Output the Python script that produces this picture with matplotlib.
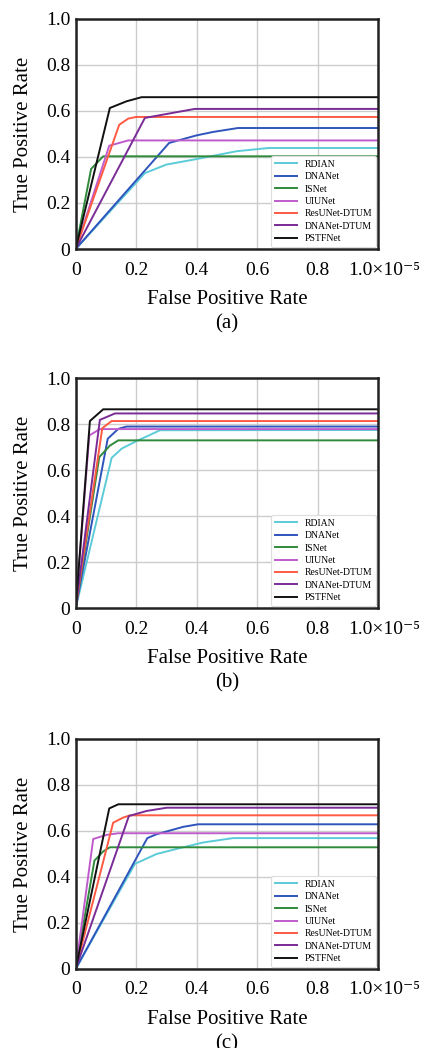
import matplotlib
matplotlib.use('Agg')
import matplotlib.pyplot as plt
import matplotlib.transforms as mtrans
import numpy as np

### data (FPR in units of 1e-5)
names = ['RDIAN', 'DNANet', 'ISNet', 'UIUNet', 'ResUNet-DTUM', 'DNANet-DTUM', 'PSTFNet']
colors = ['#5ccbd8', '#2f55bd', '#2f8a3c', '#bf5ccb', '#ff5a42', '#7a2c96', '#111111']

# panel (a)
a_fpr = {
    'RDIAN': [0, 0.229, 0.30, 0.40, 0.532, 0.637, 1.0],
    'DNANet': [0, 0.309, 0.40, 0.455, 0.537, 1.0],
    'ISNet': [0, 0.051, 0.091, 1.0],
    'UIUNet': [0, 0.111, 0.174, 1.0],
    'ResUNet-DTUM': [0, 0.144, 0.174, 0.20, 1.0],
    'DNANet-DTUM': [0, 0.229, 0.394, 1.0],
    'PSTFNet': [0, 0.113, 0.168, 0.218, 1.0],
}
a_tpr = {
    'RDIAN': [0, 0.33, 0.367, 0.391, 0.425, 0.439, 0.439],
    'DNANet': [0, 0.461, 0.494, 0.509, 0.526, 0.526],
    'ISNet': [0, 0.348, 0.403, 0.403],
    'UIUNet': [0, 0.449, 0.472, 0.472],
    'ResUNet-DTUM': [0, 0.54, 0.567, 0.574, 0.574],
    'DNANet-DTUM': [0, 0.57, 0.609, 0.609],
    'PSTFNet': [0, 0.613, 0.642, 0.66, 0.66],
}
# panel (b)
b_fpr = {
    'RDIAN': [0, 0.119, 0.152, 0.20, 0.279, 1.0],
    'DNANet': [0, 0.106, 0.141, 0.168, 1.0],
    'ISNet': [0, 0.078, 0.113, 0.141, 1.0],
    'UIUNet': [0, 0.045, 0.08, 1.0],
    'ResUNet-DTUM': [0, 0.088, 0.119, 1.0],
    'DNANet-DTUM': [0, 0.08, 0.13, 1.0],
    'PSTFNet': [0, 0.047, 0.091, 1.0],
}
b_tpr = {
    'RDIAN': [0, 0.653, 0.693, 0.725, 0.773, 0.774],
    'DNANet': [0, 0.736, 0.779, 0.789, 0.789],
    'ISNet': [0, 0.656, 0.706, 0.729, 0.729],
    'UIUNet': [0, 0.75, 0.778, 0.778],
    'ResUNet-DTUM': [0, 0.782, 0.813, 0.813],
    'DNANet-DTUM': [0, 0.818, 0.846, 0.846],
    'PSTFNet': [0, 0.813, 0.864, 0.864],
}
# panel (c)
c_fpr = {
    'RDIAN': [0, 0.196, 0.268, 0.334, 0.422, 0.521, 1.0],
    'DNANet': [0, 0.237, 0.268, 0.356, 0.405, 1.0],
    'ISNet': [0, 0.062, 0.091, 0.113, 1.0],
    'UIUNet': [0, 0.058, 0.102, 0.141, 1.0],
    'ResUNet-DTUM': [0, 0.124, 0.157, 0.18, 1.0],
    'DNANet-DTUM': [0, 0.176, 0.235, 0.301, 1.0],
    'PSTFNet': [0, 0.111, 0.141, 1.0],
}
c_tpr = {
    'RDIAN': [0, 0.457, 0.50, 0.522, 0.55, 0.569, 0.569],
    'DNANet': [0, 0.569, 0.586, 0.618, 0.629, 0.629],
    'ISNet': [0, 0.471, 0.511, 0.529, 0.529],
    'UIUNet': [0, 0.565, 0.583, 0.59, 0.59],
    'ResUNet-DTUM': [0, 0.636, 0.658, 0.668, 0.668],
    'DNANet-DTUM': [0, 0.665, 0.687, 0.701, 0.701],
    'PSTFNet': [0, 0.698, 0.716, 0.716],
}
panels = [('(a)', a_fpr, a_tpr), ('(b)', b_fpr, b_tpr), ('(c)', c_fpr, c_tpr)]
xticks = [0, 0.2, 0.4, 0.6, 0.8, 1.0]
xticklabels = ['0', '0.2', '0.4', '0.6', '0.8', '1.0×10⁻⁵']
yticks = [0, 0.2, 0.4, 0.6, 0.8, 1.0]
yticklabels = ['0', '0.2', '0.4', '0.6', '0.8', '1.0']

plt.rcParams['font.family'] = ['Liberation Serif', 'DejaVu Serif']

fig = plt.figure(figsize=(4.24, 10.48), dpi=100)
boxes = [0.7624, 0.4198, 0.0754]
for (cap, fpr, tpr), b in zip(panels, boxes):
    ax = fig.add_axes([0.1785, b, 0.713, 0.2195])
    for n, c in zip(names, colors):
        ax.plot(fpr[n], tpr[n], color=c, lw=1.4, label=n)
    ax.set_xlim(0, 1.0)
    ax.set_ylim(0, 1.0)
    ax.set_xticks(xticks)
    ax.set_xticklabels(xticklabels)
    ax.set_yticks(yticks)
    ax.set_yticklabels(yticklabels)
    ax.tick_params(labelsize=14, length=0)
    ax.tick_params(axis='x', pad=9)
    ax.tick_params(axis='y', pad=4)
    # nudge the last x label to the right like the original
    lab = ax.get_xticklabels()[-1]
    lab.set_transform(lab.get_transform() + mtrans.ScaledTranslation(6/100, 0, fig.dpi_scale_trans))
    ax.grid(True, color='#cccccc', lw=1.0)
    ax.set_axisbelow(True)
    for s in ax.spines.values():
        s.set_color('#222222')
        s.set_linewidth(1.8)
    ax.set_xlabel('False Positive Rate', fontsize=15, labelpad=8)
    ax.set_ylabel('True Positive Rate', fontsize=15, labelpad=9)
    ax.text(0.5, -0.325, cap, transform=ax.transAxes, ha='center', va='center', fontsize=15)
    leg = ax.legend(loc='lower right', fontsize=7, borderaxespad=0.2, handlelength=2.2,
                    labelspacing=0.35, fancybox=True, framealpha=1.0, edgecolor='#dddddd')
    leg.get_frame().set_linewidth(0.8)

plt.savefig('out.png', dpi=100)
